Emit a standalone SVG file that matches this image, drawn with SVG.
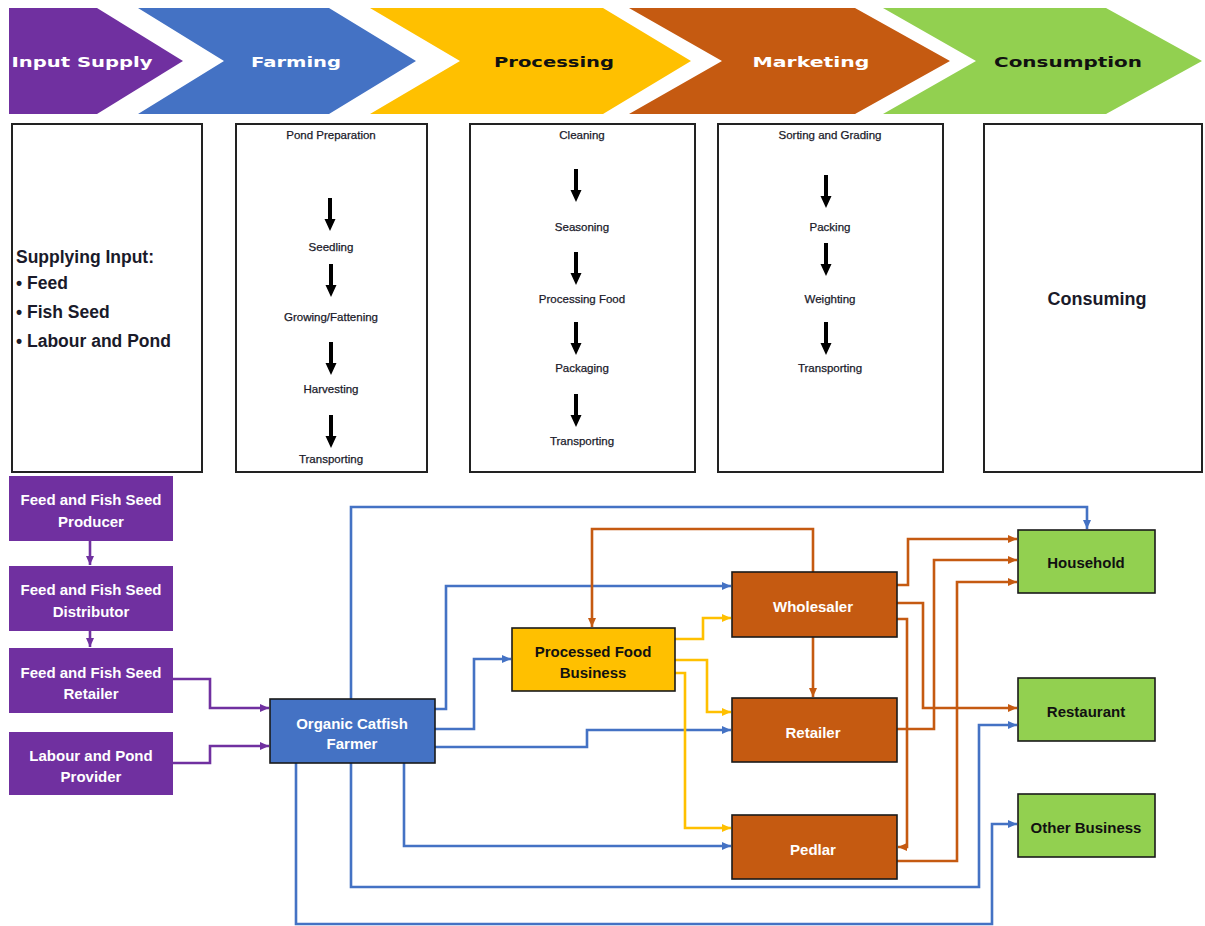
<svg xmlns="http://www.w3.org/2000/svg" width="1205" height="926" viewBox="0 0 1205 926">
<style>
.chev{font-family:"DejaVu Sans",Verdana,sans-serif;font-weight:bold;font-size:14px;text-anchor:middle}
.step{font-family:"Liberation Sans",Arial,sans-serif;font-size:11.5px;fill:#1a1a2a;text-anchor:middle;stroke:#1a1a2a;stroke-width:0.25}
.stage{fill:#fff;stroke:#222;stroke-width:2}
.node{font-family:"Liberation Sans",Arial,sans-serif;font-weight:bold;font-size:15px;text-anchor:middle}
.w{fill:#fff}
.k{fill:#111}
.bd{stroke:#1a1a1a;stroke-width:1.6}
.c{fill:none;stroke-width:2.6;stroke-linejoin:miter}
.pu{stroke:#7030A0}
.bl{stroke:#4472C4}
.ye{stroke:#FFC000}
.or{stroke:#C55A11}
</style>
<defs>
<marker id="ap" markerUnits="userSpaceOnUse" markerWidth="10" markerHeight="10" refX="9" refY="5" orient="auto"><path d="M0,1 L9,5 L0,9 z" fill="#7030A0"/></marker>
<marker id="ab" markerUnits="userSpaceOnUse" markerWidth="10" markerHeight="10" refX="9" refY="5" orient="auto"><path d="M0,1 L9,5 L0,9 z" fill="#4472C4"/></marker>
<marker id="ay" markerUnits="userSpaceOnUse" markerWidth="10" markerHeight="10" refX="9" refY="5" orient="auto"><path d="M0,1 L9,5 L0,9 z" fill="#FFC000"/></marker>
<marker id="ao" markerUnits="userSpaceOnUse" markerWidth="10" markerHeight="10" refX="9" refY="5" orient="auto"><path d="M0,1 L9,5 L0,9 z" fill="#C55A11"/></marker>
<path id="dn" d="M-2,0 H2 V21 H5.5 L0,33 L-5.5,21 H-2 Z" fill="#000"/>
</defs>

<!-- chevrons -->
<g id="chev-input"><polygon points="9,8 97,8 183,61 97,114 9,114" fill="#7030A0"/><text class="chev w" x="82" y="67" textLength="141" lengthAdjust="spacingAndGlyphs">Input Supply</text></g>
<g id="chev-farming"><polygon points="138,8 329,8 416,61 329,114 138,114 224,61" fill="#4472C4"/><text class="chev w" x="296" y="67" textLength="90" lengthAdjust="spacingAndGlyphs">Farming</text></g>
<g id="chev-processing"><polygon points="370,8 603,8 691,61 603,114 370,114 460,61" fill="#FFC000"/><text class="chev k" x="554" y="67" textLength="120" lengthAdjust="spacingAndGlyphs">Processing</text></g>
<g id="chev-marketing"><polygon points="629,8 855,8 950,61 855,114 629,114 722,61" fill="#C55A11"/><text class="chev w" x="811" y="67" textLength="117" lengthAdjust="spacingAndGlyphs">Marketing</text></g>
<g id="chev-consumption"><polygon points="883,8 1106,8 1202,61 1106,114 883,114 976,61" fill="#92D050"/><text class="chev k" x="1068" y="67" textLength="148" lengthAdjust="spacingAndGlyphs">Consumption</text></g>

<!-- stage boxes -->
<g id="stage-input">
<rect class="stage" x="12" y="124" width="190" height="348"/>
<g font-family="Liberation Sans, Arial, sans-serif" font-weight="bold" font-size="17.5" fill="#1a1a2a">
<text x="16" y="263">Supplying Input:</text>
<text x="16" y="289">• Feed</text>
<text x="16" y="318">• Fish Seed</text>
<text x="16" y="347">• Labour and Pond</text>
</g>
</g>
<g id="stage-farming">
<rect class="stage" x="236" y="124" width="191" height="348"/>
<text class="step" x="331" y="139">Pond Preparation</text>
<use href="#dn" x="330" y="198"/>
<text class="step" x="331" y="251">Seedling</text>
<use href="#dn" x="331" y="264"/>
<text class="step" x="331" y="321">Growing/Fattening</text>
<use href="#dn" x="331" y="342"/>
<text class="step" x="331" y="393">Harvesting</text>
<use href="#dn" x="331" y="415"/>
<text class="step" x="331" y="463">Transporting</text>
</g>
<g id="stage-processing">
<rect class="stage" x="470" y="124" width="225" height="348"/>
<text class="step" x="582" y="139">Cleaning</text>
<use href="#dn" x="576" y="169"/>
<text class="step" x="582" y="231">Seasoning</text>
<use href="#dn" x="576" y="252"/>
<text class="step" x="582" y="303">Processing Food</text>
<use href="#dn" x="576" y="322"/>
<text class="step" x="582" y="372">Packaging</text>
<use href="#dn" x="576" y="394"/>
<text class="step" x="582" y="445">Transporting</text>
</g>
<g id="stage-marketing">
<rect class="stage" x="718" y="124" width="225" height="348"/>
<text class="step" x="830" y="139">Sorting and Grading</text>
<use href="#dn" x="826" y="175"/>
<text class="step" x="830" y="231">Packing</text>
<use href="#dn" x="826" y="243"/>
<text class="step" x="830" y="303">Weighting</text>
<use href="#dn" x="826" y="322"/>
<text class="step" x="830" y="372">Transporting</text>
</g>
<g id="stage-consumption">
<rect class="stage" x="984" y="124" width="218" height="348"/>
<text x="1097" y="305" font-family="Liberation Sans, Arial, sans-serif" font-weight="bold" font-size="18" fill="#1a1a2a" text-anchor="middle">Consuming</text>
</g>

<!-- connectors -->
<g id="connectors">
<path class="c pu" d="M90,541 V565" marker-end="url(#ap)"/>
<path class="c pu" d="M90,631 V647" marker-end="url(#ap)"/>
<path class="c pu" d="M173,679 H210 V708 H269" marker-end="url(#ap)"/>
<path class="c pu" d="M173,763 H210 V746 H269" marker-end="url(#ap)"/>

<path class="c bl" d="M351,699 V507 H1087 V529" marker-end="url(#ab)"/>
<path class="c bl" d="M435,709 H446 V586 H731" marker-end="url(#ab)"/>
<path class="c bl" d="M435,729 H474 V659 H511" marker-end="url(#ab)"/>
<path class="c bl" d="M435,747 H587 V730 H731" marker-end="url(#ab)"/>
<path class="c bl" d="M404,763 V846 H731" marker-end="url(#ab)"/>
<path class="c bl" d="M351,763 V887 H979 V725 H1017" marker-end="url(#ab)"/>
<path class="c bl" d="M296,763 V924 H992 V824 H1017" marker-end="url(#ab)"/>

<path class="c ye" d="M675,639 H703 V618 H731" marker-end="url(#ay)"/>
<path class="c ye" d="M675,660 H707 V712 H731" marker-end="url(#ay)"/>
<path class="c ye" d="M675,673 H685 V828 H731" marker-end="url(#ay)"/>

<path class="c or" d="M813,572 V529 H592 V627" marker-end="url(#ao)"/>
<path class="c or" d="M813,637 V697" marker-end="url(#ao)"/>
<path class="c or" d="M897,585 H908 V539 H1017" marker-end="url(#ao)"/>
<path class="c or" d="M897,603 H923 V708 H1017" marker-end="url(#ao)"/>
<path class="c or" d="M897,619 H907 V847 H898" marker-end="url(#ao)"/>
<path class="c or" d="M897,729 H934 V560 H1017" marker-end="url(#ao)"/>
<path class="c or" d="M897,861 H957 V582 H1017" marker-end="url(#ao)"/>
</g>

<!-- nodes -->
<g id="producer"><rect x="9" y="476" width="164" height="65" fill="#7030A0"/><text class="node w" x="91" y="505">Feed and Fish Seed</text><text class="node w" x="91" y="527">Producer</text></g>
<g id="distributor"><rect x="9" y="566" width="164" height="65" fill="#7030A0"/><text class="node w" x="91" y="595">Feed and Fish Seed</text><text class="node w" x="91" y="617">Distributor</text></g>
<g id="retailer-input"><rect x="9" y="648" width="164" height="65" fill="#7030A0"/><text class="node w" x="91" y="678">Feed and Fish Seed</text><text class="node w" x="91" y="699">Retailer</text></g>
<g id="labour"><rect x="9" y="732" width="164" height="63" fill="#7030A0"/><text class="node w" x="91" y="761">Labour and Pond</text><text class="node w" x="91" y="782">Provider</text></g>
<g id="farmer"><rect class="bd" x="270" y="699" width="165" height="64" fill="#4472C4"/><text class="node w" x="352" y="729">Organic Catfish</text><text class="node w" x="352" y="749">Farmer</text></g>
<g id="processed"><rect class="bd" x="512" y="628" width="163" height="63" fill="#FFC000"/><text class="node k" x="593" y="657">Processed Food</text><text class="node k" x="593" y="678">Business</text></g>
<g id="wholesaler"><rect class="bd" x="732" y="572" width="165" height="65" fill="#C55A11"/><text class="node w" x="813" y="612">Wholesaler</text></g>
<g id="retailer"><rect class="bd" x="732" y="698" width="165" height="64" fill="#C55A11"/><text class="node w" x="813" y="738">Retailer</text></g>
<g id="pedlar"><rect class="bd" x="732" y="815" width="165" height="64" fill="#C55A11"/><text class="node w" x="813" y="855">Pedlar</text></g>
<g id="household"><rect class="bd" x="1018" y="530" width="137" height="63" fill="#92D050"/><text class="node k" x="1086" y="568">Household</text></g>
<g id="restaurant"><rect class="bd" x="1018" y="678" width="137" height="63" fill="#92D050"/><text class="node k" x="1086" y="717">Restaurant</text></g>
<g id="other"><rect class="bd" x="1018" y="794" width="137" height="63" fill="#92D050"/><text class="node k" x="1086" y="833">Other Business</text></g>
</svg>
